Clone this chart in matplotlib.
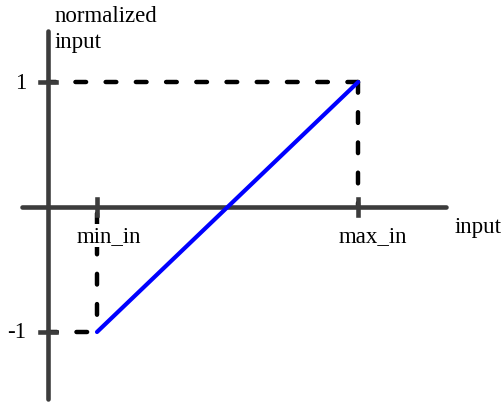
import matplotlib
matplotlib.use("Agg")
import matplotlib.pyplot as plt

# data (arbitrary input units, normalized output)
min_in = 1.0
max_in = 6.33
norm_lo = -1.0
norm_hi = 1.0
line_x = [min_in, max_in]
line_y = [norm_lo, norm_hi]
x_tick_labels = ["min_in", "max_in"]
y_tick_labels = ["-1", "1"]

# pixel scale of the original drawing
PX_X = 49.0     # px per input unit
PX_Y = 125.0    # px per normalized unit
X0, Y0 = 48, 208  # origin in px (from top-left)
W, H = 503, 406

plt.rcParams["font.family"] = ["Liberation Serif", "DejaVu Serif"]

fig = plt.figure(figsize=(W / 100, H / 100), dpi=100)
ax = fig.add_axes([0, 0, 1, 1])
ax.set_xlim(-X0 / PX_X, (W - X0) / PX_X)
ax.set_ylim(-(H - Y0) / PX_Y, Y0 / PX_Y)
ax.axis("off")

axis_col = "#3c3c3c"
lw_axis = 3.3
lw_dash = 3.2

# axis lines
ax.plot([-26 / PX_X, 398 / PX_X], [0, 0], color=axis_col, lw=lw_axis,
        solid_capstyle="round", zorder=4)
ax.plot([0, 0], [-192 / PX_Y, 176 / PX_Y], color=axis_col, lw=lw_axis,
        solid_capstyle="round", zorder=4)

# ticks
tx = 8 / PX_X
ty = 8 / PX_Y
for yv in line_y:
    ax.plot([-tx, tx], [yv, yv], color=axis_col, lw=lw_axis, zorder=4)
for xv in line_x:
    ax.plot([xv, xv], [-ty, ty], color=axis_col, lw=lw_axis, zorder=4)

# dashed guides
def guide(xs, ys, off):
    ax.plot(xs, ys, color="black", lw=lw_dash, linestyle=(off, (2.4, 4.4)),
            dash_capstyle="round", zorder=2)

guide([0, max_in], [norm_hi, norm_hi], 0.63)
guide([max_in, max_in], [norm_hi, 0], 0.0)
guide([min_in, min_in], [0, norm_lo], 5.36)
guide([0, min_in], [norm_lo, norm_lo], 0.4)

# transfer line
ax.plot(line_x, line_y, color="blue", lw=3.0, solid_capstyle="round", zorder=5)

fs = 16.5
for xv, lab in zip(line_x, x_tick_labels):
    ax.text(xv - 20 / PX_X, -34 / PX_Y, lab, fontsize=fs, ha="left", va="baseline",
            zorder=3, bbox=dict(facecolor="white", edgecolor="none", pad=1))
for yv, lab in zip(line_y, y_tick_labels):
    ax.text(-22 / PX_X, yv, lab, fontsize=fs, ha="right", va="center")

ax.text(407 / PX_X, -25 / PX_Y, "input", fontsize=fs, ha="left", va="baseline")
ax.text(7 / PX_X, 186 / PX_Y, "normalized", fontsize=fs, ha="left", va="baseline")
ax.text(7 / PX_X, 160 / PX_Y, "input", fontsize=fs, ha="left", va="baseline")

fig.savefig("out.png", dpi=100)
